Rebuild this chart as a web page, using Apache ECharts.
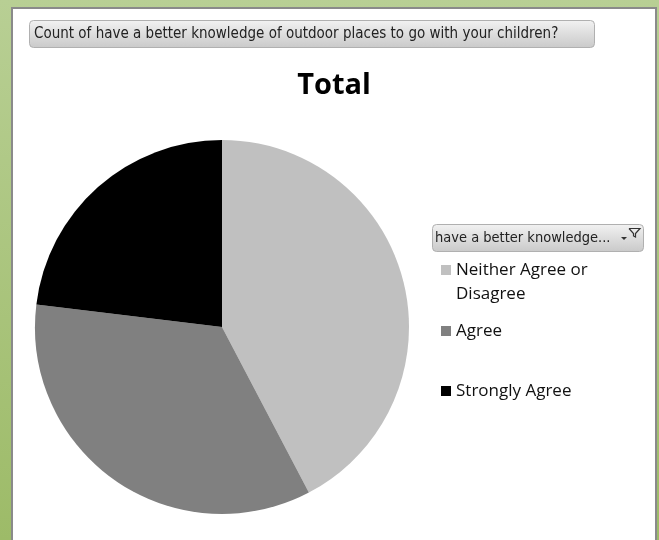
<!DOCTYPE html>
<html>
<head>
<meta charset="utf-8">
<script src="https://cdn.jsdelivr.net/npm/echarts@6/dist/echarts.min.js"></script>
<style>
  html, body { margin: 0; padding: 0; width: 100%; height: 100%; }
  html { background: linear-gradient(180deg, #b8cf94 0%, #9dbb68 100%); }
  body { background: transparent; }
  #frame { position: absolute; left: 11px; top: 7px; width: 642px; height: 545px;
           background: #fff; border: 2px solid #8a8a8a; }
  #main { position: absolute; left: 0; top: 0; width: 659px; height: 540px; }
</style>
</head>
<body>
<div id="frame"></div>
<div id="main"></div>
<script>
// chart data
var categories = ['Neither Agree or Disagree', 'Agree', 'Strongly Agree'];
var counts = [11, 9, 6];
var colors = ['#c0c0c0', '#808080', '#000000'];
var headerText = 'Count of have a better knowledge of outdoor places to go with your children?';
var filterText = 'have a better knowledge...';

var chart = echarts.init(document.getElementById('main'));

var pieData = [];
for (var i = 0; i < categories.length; i++) {
	pieData.push({ name: categories[i], value: counts[i], itemStyle: { color: colors[i] } });
}

// one legend per entry so the uneven Excel spacing can be kept
var legendTops = [234, 319, 379];
var legends = [];
for (var j = 0; j < categories.length; j++) {
	legends.push({
		data: [categories[j]],
		left: 441,
		top: legendTops[j],
		padding: 0,
		icon: 'rect',
		itemWidth: 10,
		itemHeight: 10,
		itemGap: 6,
		selectedMode: false,
		formatter: function (name) {
			// blank first line keeps the marker level with "Neither Agree or"
			return name === 'Neither Agree or Disagree' ? ' \nNeither Agree or\nDisagree' : name;
		},
		textStyle: {
			fontFamily: 'Open Sans',
			fontSize: 17,
			color: '#111',
			lineHeight: 24
		}
	});
}

var option = {
	animation: false,
	title: {
		text: 'Total',
		left: 334,
		top: 71,
		padding: 0,
		textAlign: 'center',
		textStyle: { fontFamily: 'Open Sans', fontWeight: 'bold', fontSize: 29, color: '#000' }
	},
	legend: legends,
	graphic: [
		{
			type: 'rect',
			shape: { x: 29.5, y: 20.5, width: 565, height: 27, r: 4 },
			style: {
				fill: new echarts.graphic.LinearGradient(0, 0, 0, 1, [
					{ offset: 0, color: '#f2f2f2' }, { offset: 1, color: '#c9c9c9' }
				]),
				stroke: '#b0b0b0', lineWidth: 1
			}
		},
		{
			type: 'text',
			left: 34, top: 27,
			style: { text: headerText, fontFamily: 'DejaVu Sans Condensed', fontSize: 15, fill: '#222' }
		},
		{
			type: 'rect',
			shape: { x: 432.5, y: 224.5, width: 211, height: 27, r: 4 },
			style: {
				fill: new echarts.graphic.LinearGradient(0, 0, 0, 1, [
					{ offset: 0, color: '#f2f2f2' }, { offset: 1, color: '#c9c9c9' }
				]),
				stroke: '#b0b0b0', lineWidth: 1
			}
		},
		{
			type: 'text',
			left: 435, top: 231,
			style: { text: filterText, fontFamily: 'DejaVu Sans Condensed', fontSize: 14.5, fill: '#222' }
		},
		{
			// filter funnel icon
			type: 'polyline',
			shape: { points: [[629, 228.5], [640, 228.5], [635.5, 233.5], [635.5, 237], [633.5, 236], [633.5, 233.5], [629, 228.5]] },
			style: { stroke: '#333', lineWidth: 1.2, fill: null }
		},
		{
			type: 'polygon',
			shape: { points: [[621, 237], [627, 237], [624, 240]] },
			style: { fill: '#333' }
		}
	],
	series: [{
		name: 'Total',
		type: 'pie',
		center: [222, 327],
		radius: 187,
		startAngle: 90,
		clockwise: true,
		label: { show: false },
		labelLine: { show: false },
		emphasis: { disabled: true },
		itemStyle: { borderWidth: 0 },
		data: pieData
	}]
};

chart.setOption(option);
</script>
</body>
</html>
